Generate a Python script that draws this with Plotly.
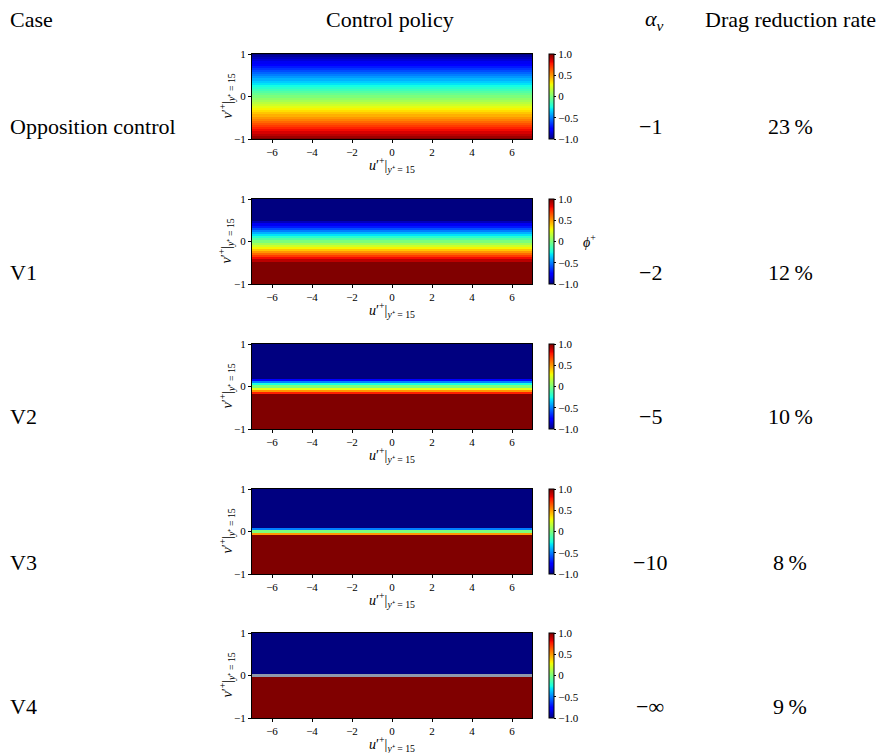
import numpy as np
import plotly.graph_objects as go

# ---- data -------------------------------------------------------------
cases = ["Opposition control", "V1", "V2", "V3", "V4"]
alpha_v = [-1.0, -2.0, -5.0, -10.0, float("-inf")]
alpha_labels = ["\u22121", "\u22122", "\u22125", "\u221210", "\u2212\u221e"]
drag_reduction = [23, 12, 10, 8, 9]          # percent

u_grid = np.linspace(-7, 7, 15)              # u'+ at y+=15
v_grid = np.linspace(-1, 1, 41)              # v'+ at y+=15
cbar_vals = [-1.0, -0.5, 0.0, 0.5, 1.0]
cbar_text = ["\u22121.0", "\u22120.5", "0", "0.5", "1.0"]

# ---- jet colour map (piecewise linear) --------------------------------
_r = ([0, 0.35, 0.66, 0.89, 1], [0, 0, 1, 1, 0.5])
_g = ([0, 0.125, 0.375, 0.64, 0.91, 1], [0, 0, 1, 1, 0, 0])
_b = ([0, 0.11, 0.34, 0.65, 1], [0.5, 1, 1, 0, 0])
_stops = sorted(set(_r[0] + _g[0] + _b[0]))
jet = []
for s in _stops:
    r, g, b = (np.interp(s, *_r), np.interp(s, *_g), np.interp(s, *_b))
    jet.append([s, f"rgb({int(round(r*255))},{int(round(g*255))},{int(round(b*255))})"])

# ---- geometry (pixels) ------------------------------------------------
W, H = 881, 753
px_x = lambda p: p / W
px_y = lambda p: 1 - p / H
X0, X1 = 252, 532
PH = 85
row_tops = [54, 199, 344, 489, 633]
FONT = "Liberation Serif, Times New Roman, serif"
BLACK = "black"


def label(x, y, text, size, xanchor="center", angle=0):
    fig.add_annotation(x=px_x(x), y=px_y(y), xref="paper", yref="paper",
                       xanchor=xanchor, yanchor="middle", showarrow=False,
                       textangle=angle, text=text,
                       font=dict(family=FONT, size=size, color=BLACK))


fig = go.Figure()

for i, (a, top) in enumerate(zip(alpha_v, row_tops)):
    with np.errstate(invalid="ignore"):
        phi_col = np.clip(a * v_grid, -1, 1)
    z = np.repeat(phi_col[:, None], len(u_grid), axis=1)
    ax = "" if i == 0 else str(i + 1)
    fig.add_trace(go.Heatmap(
        x=u_grid, y=v_grid, z=z, zmin=-1, zmax=1, colorscale=jet,
        xaxis="x" + ax, yaxis="y" + ax, hoverinfo="skip",
        colorbar=dict(
            x=px_x(549), xanchor="left", xpad=0, ypad=0,
            y=px_y(top + PH / 2), yanchor="middle",
            len=PH, lenmode="pixels", thickness=5, thicknessmode="pixels",
            outlinewidth=1, outlinecolor=BLACK,
            tickvals=cbar_vals, ticktext=cbar_text,
            ticks="outside", ticklen=2, tickcolor=BLACK,
            tickfont=dict(family=FONT, size=11, color=BLACK),
        ),
    ))
    axis_common = dict(showgrid=False, zeroline=False, showline=True,
                       linecolor=BLACK, linewidth=1, mirror=True, automargin=False,
                       ticks="outside", ticklen=3, tickcolor=BLACK,
                       tickfont=dict(family=FONT, size=11, color=BLACK))
    fig.layout["xaxis" + ax] = dict(domain=[px_x(X0), px_x(X1)], range=[-7, 7],
                                    tickvals=[-6, -4, -2, 0, 2, 4, 6],
                                    anchor="y" + ax, **axis_common)
    fig.layout["yaxis" + ax] = dict(domain=[px_y(top + PH), px_y(top)], range=[-1, 1],
                                    tickvals=[-1, 0, 1], anchor="x" + ax, **axis_common)

    # axis titles
    label((X0 + X1) / 2, top + PH + 26,
          "<i>u</i>\u2032<sup>+</sup>|<sub><i>y</i>\u207a = 15</sub>", 14)
    label(227, top + PH / 2,
          "<i>v</i>\u2032<sup>+</sup>|<sub><i>y</i>\u207a = 15</sub>", 14, angle=-90)

    # table text for this row
    label(8, top + 73, cases[i], 22, xanchor="left")
    label(650, top + 73, alpha_labels[i], 22)
    label(790, top + 73, f"{drag_reduction[i]}\u2009%", 22)

# colour-bar label (second row)
label(589, row_tops[1] + PH / 2, "<i>\u03d5</i><sup>+</sup>", 14)

# column headers
label(8, 20, "Case", 22, xanchor="left")
label(390, 20, "Control policy", 22)
label(654, 20, "<i>\u03b1</i><sub><i>v</i></sub>", 22)
label(790, 20, "Drag reduction rate", 22)

fig.update_layout(template="none", width=W, height=H,
                  margin=dict(l=0, r=0, t=0, b=0, pad=0),
                  paper_bgcolor="white", plot_bgcolor="#8e98ab", showlegend=False)

fig.write_html("out.html")
